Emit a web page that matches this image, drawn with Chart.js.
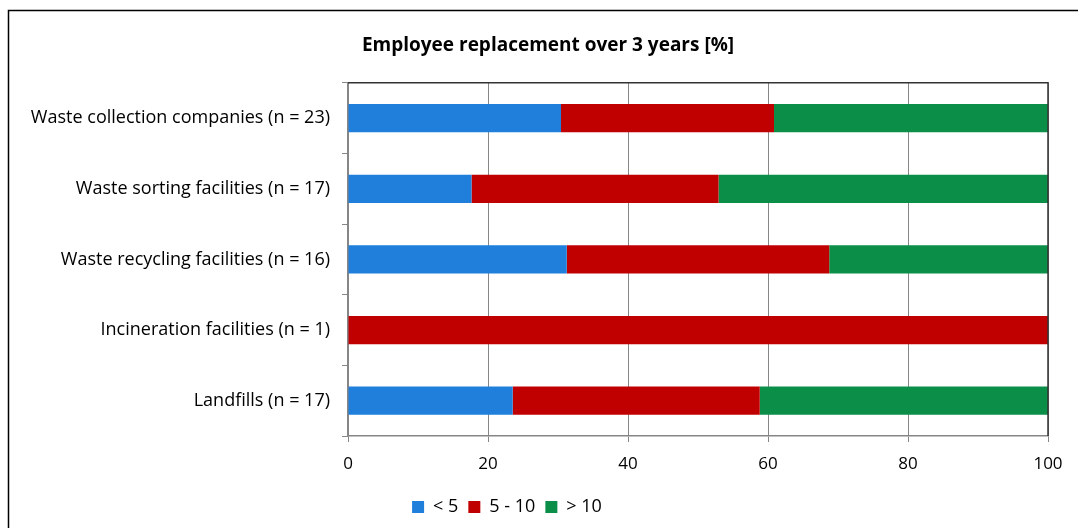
<!DOCTYPE html>
<html>
<head>
<meta charset="utf-8">
<script src="https://cdn.jsdelivr.net/npm/chart.js@4"></script>
<style>
  html, body { margin: 0; padding: 0; background: #fff; }
  canvas { display: block; }
</style>
</head>
<body>
<canvas id="replacementChart" width="1078" height="528"></canvas>
<script>
var categories = [
    'Waste collection companies (n = 23)',
    'Waste sorting facilities (n = 17)',
    'Waste recycling facilities (n = 16)',
    'Incineration facilities (n = 1)',
    'Landfills (n = 17)'
];
var seriesNames = ['< 5', '5 - 10', '> 10'];
var under5 = [30.43, 17.65, 31.25, 0, 23.53];
var from5to10 = [30.43, 35.29, 37.5, 100, 35.29];
var over10 = [39.13, 47.06, 31.25, 0, 41.18];
var xTicks = [0, 20, 40, 60, 80, 100];

var fontFamily = '"Open Sans", "Noto Sans", sans-serif';

// outer frame and plot-area border (top + right)
var framePlugin = {
    id: 'frame',
    afterLayout: function (chart) {
        // Excel centres the title and legend a bit differently
        chart.titleBlock.left += 48;
        chart.legend.left -= 34;
    },
    afterDraw: function (chart) {
        var ctx = chart.ctx;
        var a = chart.chartArea;
        ctx.save();
        ctx.strokeStyle = '#000';
        ctx.lineWidth = 1.5;
        ctx.strokeRect(8.5, 10.5, 1200, 600);
        ctx.strokeStyle = '#333';
        ctx.lineWidth = 1.5;
        ctx.beginPath();
        ctx.moveTo(a.left, a.top);
        ctx.lineTo(a.right, a.top);
        ctx.lineTo(a.right, a.bottom);
        ctx.stroke();
        ctx.restore();
    }
};

document.addEventListener('DOMContentLoaded', function () {
    var ctx = document.getElementById('replacementChart').getContext('2d');
    var chart = new Chart(ctx, {
        type: 'bar',
        data: {
            labels: categories,
            datasets: [{
                label: seriesNames[0],
                data: under5,
                backgroundColor: '#1f7fdb'
            }, {
                label: seriesNames[1],
                data: from5to10,
                backgroundColor: '#c00000'
            }, {
                label: seriesNames[2],
                data: over10,
                backgroundColor: '#0b8f48'
            }]
        },
        options: {
            indexAxis: 'y',
            responsive: false,
            animation: false,
            barPercentage: 0.4,
            categoryPercentage: 1,
            layout: {
                padding: { left: 0, right: 30, top: 0, bottom: 2 }
            },
            plugins: {
                title: {
                    display: true,
                    text: 'Employee replacement over 3 years [%]',
                    color: '#000',
                    font: { family: fontFamily, size: 19, weight: 'bold' },
                    padding: { top: 34, bottom: 26 }
                },
                legend: {
                    position: 'bottom',
                    labels: {
                        boxWidth: 12,
                        boxHeight: 12,
                        padding: 10,
                        color: '#000',
                        font: { family: fontFamily, size: 18 }
                    }
                },
                tooltip: { enabled: false }
            },
            scales: {
                x: {
                    stacked: true,
                    min: 0,
                    max: 100,
                    afterBuildTicks: function (scale) {
                        scale.ticks = xTicks.map(function (v) { return { value: v }; });
                    },
                    afterFit: function (scale) { scale.height = 52; },
                    grid: {
                        color: '#868686',
                        lineWidth: 1,
                        tickLength: 6
                    },
                    border: { color: '#868686', width: 1.5 },
                    ticks: {
                        color: '#000',
                        padding: 12,
                        font: { family: fontFamily, size: 17 }
                    }
                },
                y: {
                    stacked: true,
                    afterFit: function (scale) { scale.width = 348; },
                    grid: {
                        offset: true,
                        drawOnChartArea: false,
                        color: '#868686',
                        tickLength: 6
                    },
                    border: { color: '#868686', width: 1.5 },
                    ticks: {
                        color: '#000',
                        padding: 12,
                        font: { family: fontFamily, size: 18 }
                    }
                }
            }
        },
        plugins: [framePlugin]
    });
});
</script>
</body>
</html>
